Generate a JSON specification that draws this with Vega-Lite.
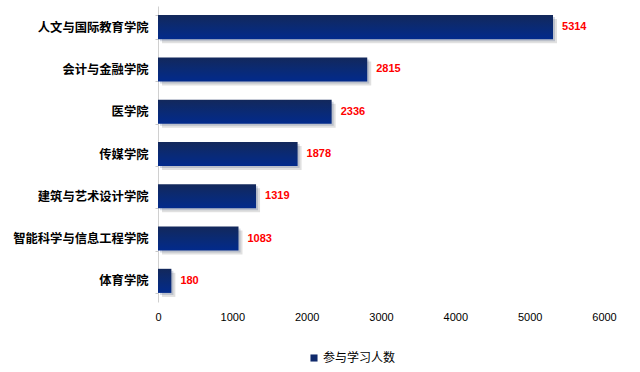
{
  "$schema": "https://vega.github.io/schema/vega-lite/v6.json",
  "width": 446,
  "height": 296,
  "padding": {"left": 12, "top": 0, "right": 10, "bottom": 5},
  "background": "white",
  "data": {
    "values": [
      {"学院": "人文与国际教育学院", "人数": 5314, "系列": "参与学习人数"},
      {"学院": "会计与金融学院", "人数": 2815, "系列": "参与学习人数"},
      {"学院": "医学院", "人数": 2336, "系列": "参与学习人数"},
      {"学院": "传媒学院", "人数": 1878, "系列": "参与学习人数"},
      {"学院": "建筑与艺术设计学院", "人数": 1319, "系列": "参与学习人数"},
      {"学院": "智能科学与信息工程学院", "人数": 1083, "系列": "参与学习人数"},
      {"学院": "体育学院", "人数": 180, "系列": "参与学习人数"}
    ]
  },
  "encoding": {
    "y": {
      "field": "学院",
      "type": "nominal",
      "sort": null,
      "title": null,
      "scale": {"paddingInner": 0.43, "paddingOuter": 0.215},
      "axis": {
        "labelFont": "Noto Sans CJK SC",
        "labelFontWeight": "bold",
        "labelFontSize": 12.3,
        "labelColor": "#000000",
        "labelPadding": 7,
        "tickSize": 3,
        "tickBand": "extent",
        "tickColor": "#c8c8c8",
        "domainColor": "#d0d0d0",
        "grid": false
      }
    },
    "x": {
      "field": "人数",
      "type": "quantitative",
      "title": null,
      "scale": {"domain": [0, 6000], "nice": false},
      "axis": {
        "values": [0, 1000, 2000, 3000, 4000, 5000, 6000],
        "format": "d",
        "labelFont": "Liberation Sans",
        "labelFontSize": 11,
        "labelColor": "#000000",
        "labelPadding": 9,
        "ticks": false,
        "domain": false,
        "grid": false,
        "labelFlush": false
      }
    }
  },
  "layer": [
    {
      "mark": {"type": "bar", "xOffset": 4, "yOffset": 4, "color": "#000000", "opacity": 0.12}
    },
    {
      "mark": {"type": "bar", "xOffset": 2, "yOffset": 2, "opacity": 0.18},
      "encoding": {
        "color": {
          "field": "系列",
          "type": "nominal",
          "scale": {"range": ["#102a6c"]},
          "legend": {
            "title": null,
            "orient": "none",
            "legendX": 150,
            "legendY": 346,
            "direction": "horizontal",
            "symbolType": "square",
            "symbolSize": 50,
            "symbolOpacity": 1,
            "symbolStrokeWidth": 0,
            "labelFont": "Noto Sans CJK SC",
            "labelFontSize": 12,
            "labelColor": "#000000",
            "labelOffset": 3
          }
        }
      }
    },
    {
      "mark": {
        "type": "bar",
        "color": {
          "gradient": "linear",
          "x1": 0, "y1": 0, "x2": 0, "y2": 1,
          "stops": [
            {"offset": 0, "color": "#13285b"},
            {"offset": 0.5, "color": "#0a2a74"},
            {"offset": 1, "color": "#022a8c"}
          ]
        }
      }
    },
    {
      "mark": {
        "type": "text",
        "align": "left",
        "baseline": "middle",
        "dx": 9,
        "font": "Liberation Sans",
        "fontWeight": "bold",
        "fontSize": 11,
        "color": "#ff0000"
      },
      "encoding": {"text": {"field": "人数", "type": "quantitative"}}
    }
  ],
  "config": {"view": {"stroke": null}}
}
